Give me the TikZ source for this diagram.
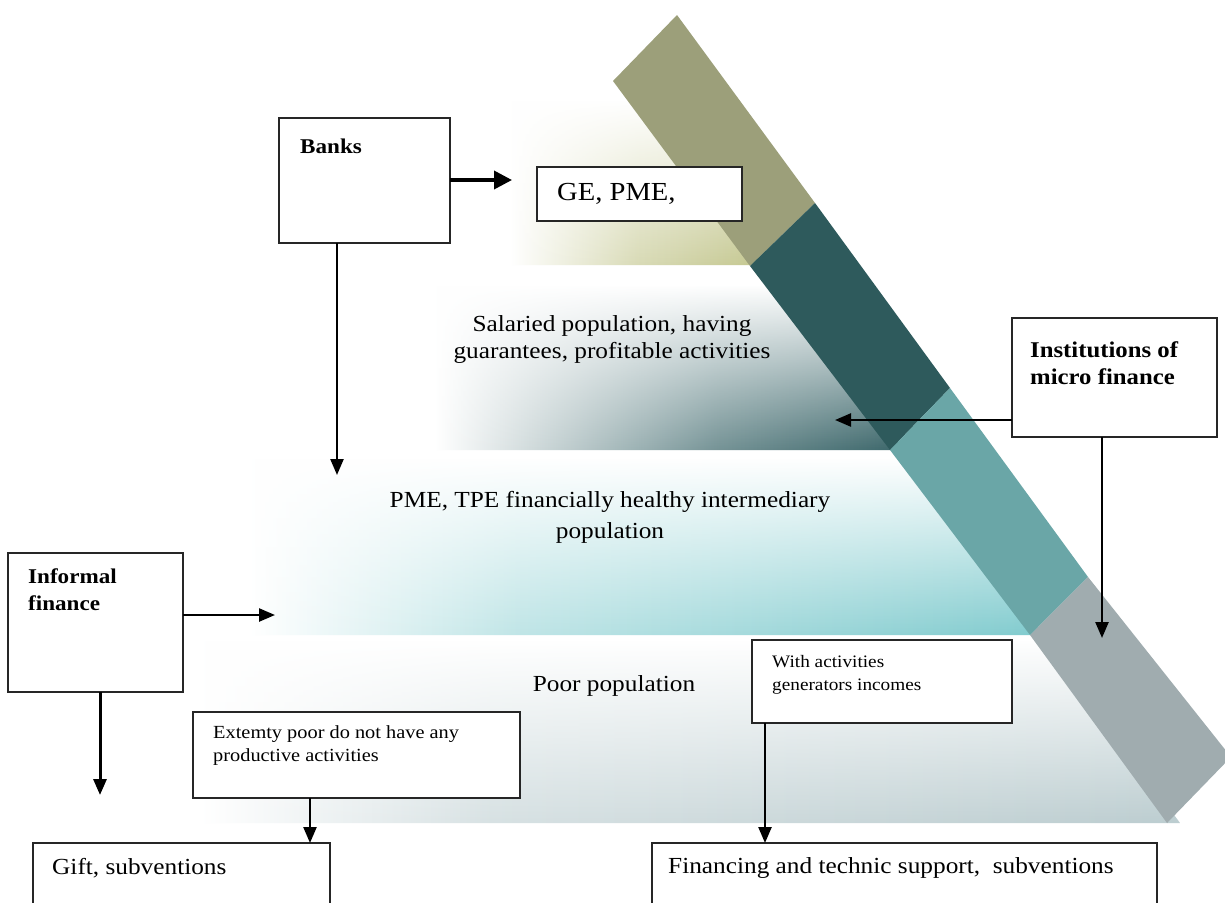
\documentclass[tikz,border=0pt]{standalone}
\usepackage{fontspec}
\setmainfont{Liberation Serif}[FakeStretch=1.1]
\usetikzlibrary{arrows.meta,fadings}
\tikzfading[name=fadedown, top color=transparent!100, middle color=transparent!25, bottom color=transparent!0]
\definecolor{bandA}{HTML}{9C9F7A}
\definecolor{bandB}{HTML}{2E5A5C}
\definecolor{bandC}{HTML}{6AA6A7}
\definecolor{bandD}{HTML}{A0ACAF}
\definecolor{layA}{HTML}{C4C78F}
\definecolor{layB}{HTML}{3A6569}
\definecolor{layC}{HTML}{80CBCE}
\definecolor{layD}{HTML}{BCCDD0}
\pgfdeclarehorizontalshading{shA}{100bp}{color(0bp)=(white); color(25bp)=(white); color(50bp)=(layA!65); color(75bp)=(layA); color(100bp)=(layA)}
\pgfdeclarehorizontalshading{shB}{100bp}{color(0bp)=(white); color(25bp)=(white); color(38bp)=(layB!30); color(55bp)=(layB!70); color(75bp)=(layB); color(100bp)=(layB)}
\pgfdeclarehorizontalshading{shC}{100bp}{color(0bp)=(white); color(25bp)=(white); color(42bp)=(layC!50); color(75bp)=(layC); color(100bp)=(layC)}
\pgfdeclarehorizontalshading{shD}{100bp}{color(0bp)=(white); color(25bp)=(white); color(40bp)=(layD!60); color(75bp)=(layD); color(100bp)=(layD)}
\begin{document}
\begin{tikzpicture}[x=1pt,y=-1pt,
  box/.style={draw=black!85, line width=1.8pt, fill=white, inner sep=0pt, outer sep=0pt, anchor=north west},
  arr/.style={line width=2.4pt, -{Triangle[length=16pt,width=13pt]}},
  thickarr/.style={line width=3.6pt, -{Triangle[length=18pt,width=18pt]}},
  lab/.style={align=center, inner sep=0pt, font=\fontsize{23}{27}\selectfont},
  btxt/.style={align=left, anchor=west, inner sep=0pt, font=\bfseries\fontsize{21}{27}\selectfont},
  stxt/.style={align=left, anchor=west, inner sep=0pt, font=\fontsize{18.5}{23}\selectfont},
  mtxt/.style={align=left, anchor=west, inner sep=0pt, font=\fontsize{23}{26}\selectfont},
  layer/.style={path fading=fadedown}]
\useasboundingbox (0,0) rectangle (1225,902);
\clip (0,0) rectangle (1225,902);
\fill[white] (0,0) rectangle (1225,902);
% layers
\shade[layer, shading=shA] (510,100) -- (645,100) -- (765,265) -- (510,265) -- cycle;
\shade[layer, shading=shB] (435,285) -- (780,285) -- (905,450) -- (435,450) -- cycle;
\shade[layer, shading=shC] (250,458) -- (910,458) -- (1045,635) -- (250,635) -- cycle;
\shade[layer, shading=shD] (200,640) -- (1045,640) -- (1180,823) -- (200,823) -- cycle;
% band
\fill[bandA] (613,81) -- (677,15) -- (815,203) -- (750,266) -- cycle;
\fill[bandB] (750,266) -- (815,203) -- (950,388) -- (890,450) -- cycle;
\fill[bandC] (890,450) -- (950,388) -- (1088,577) -- (1030,635) -- cycle;
\fill[bandD] (1030,635) -- (1088,577) -- (1231,757) -- (1167,823) -- cycle;
% boxes
\node[box, minimum width=171pt, minimum height=125pt] (banks) at (279,118) {};
\node[box, minimum width=205pt, minimum height=54pt] (ge) at (537,167) {};
\node[box, minimum width=205pt, minimum height=119pt] (inst) at (1012,318) {};
\node[box, minimum width=175pt, minimum height=139pt] (inf) at (8,553) {};
\node[box, minimum width=327pt, minimum height=86pt] (ext) at (193,712) {};
\node[box, minimum width=297pt, minimum height=70pt] (gift) at (33,843) {};
\node[box, minimum width=260pt, minimum height=83pt] (with) at (752,640) {};
\node[box, minimum width=505pt, minimum height=70pt] (fin) at (652,843) {};
% texts
\node[btxt] (tbanks) at (300,146) {Banks};
\node[anchor=west, inner sep=0pt, font=\fontsize{26}{30}\selectfont] (tge) at (557,194) {GE, PME,};
\node[btxt, font=\bfseries\fontsize{22.5}{27}\selectfont] (tinst) at (1030,363) {Institutions of\\micro finance};
\node[btxt] (tinf) at (28,590) {Informal\\finance};
\node[stxt] (text) at (213,746) {Extemty poor do not have any\\productive activities};
\node[stxt, font=\fontsize{17.5}{23}\selectfont] (twith) at (772,675) {With activities\\generators incomes};
\node[mtxt] (tgift) at (52,868) {Gift, subventions};
\node[mtxt] (tfin) at (668,868) {Financing and technic support,\ \ subventions};
\node[lab] (tsal) at (612,339) {Salaried population, having\\guarantees, profitable activities};
\node[lab, font=\fontsize{23}{31}\selectfont] (tpme) at (610,517) {PME, TPE financially healthy intermediary\\population};
\node[lab] (tpoor) at (614,686) {Poor population};
% connector ends
\coordinate (bTip) at (337,475);
\coordinate (iTip) at (835,420);
\coordinate (iTip2) at (1102,638);
\coordinate (fTip) at (275,615);
\coordinate (fTip2) at (100,795);
\coordinate (g1) at ([xshift=-20pt]gift.north east);
\coordinate (w1) at ([xshift=13pt]with.south west);
% connectors
\draw[thickarr, shorten >=25pt] (banks.east |- 0,180) -- (ge.west |- 0,180);
\draw[arr] (banks.south -| bTip) -- (bTip);
\draw[arr] (inst.west |- iTip) -- (iTip);
\draw[arr] (inst.south -| iTip2) -- (iTip2);
\draw[arr] (inf.east |- fTip) -- (fTip);
\draw[arr, line width=3pt] (inf.south -| fTip2) -- (fTip2);
\draw[arr] (ext.south -| g1) -- (g1);
\draw[arr] (w1) -- (w1 |- fin.north);
\end{tikzpicture}
\end{document}
